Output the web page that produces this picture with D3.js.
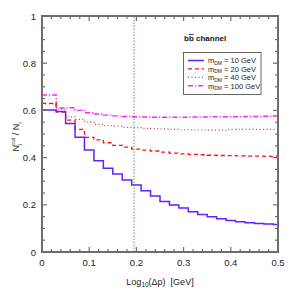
<!DOCTYPE html>
<html>
<head>
<meta charset="utf-8">
<script src="https://cdn.jsdelivr.net/npm/d3@7"></script>
<style>
  body { margin: 0; background: #fff; }
  svg { display: block; font-family: "Liberation Sans", Arial, sans-serif; }
</style>
</head>
<body>
<div id="chart"></div>
<script>
// bin edges of the step histograms
var binEdges = [0, 0.03, 0.05, 0.07, 0.09, 0.11, 0.13, 0.15, 0.17, 0.19, 0.21,
  0.23, 0.25, 0.27, 0.29, 0.31, 0.33, 0.35, 0.37, 0.39, 0.41, 0.43, 0.45,
  0.47, 0.49, 0.5];

var m10 = [0.602, 0.595, 0.545, 0.486, 0.432, 0.387, 0.355, 0.331, 0.305,
  0.284, 0.260, 0.237, 0.214, 0.199, 0.186, 0.171, 0.159, 0.149, 0.141,
  0.134, 0.128, 0.124, 0.121, 0.119, 0.116];
var m20 = [0.630, 0.593, 0.559, 0.520, 0.486, 0.475, 0.463, 0.452, 0.444,
  0.436, 0.432, 0.428, 0.423, 0.419, 0.416, 0.414, 0.412, 0.410, 0.409,
  0.408, 0.407, 0.406, 0.406, 0.405, 0.405];
var m40 = [0.628, 0.605, 0.573, 0.562, 0.550, 0.541, 0.535, 0.533, 0.528,
  0.527, 0.524, 0.523, 0.522, 0.520, 0.518, 0.517, 0.517, 0.516, 0.516,
  0.520, 0.520, 0.520, 0.520, 0.520, 0.520];
var m100 = [0.665, 0.610, 0.611, 0.600, 0.590, 0.585, 0.580, 0.577, 0.574,
  0.573, 0.572, 0.571, 0.571, 0.571, 0.571, 0.572, 0.572, 0.573, 0.573,
  0.573, 0.573, 0.574, 0.574, 0.575, 0.576];

var cutLine = 0.195;

var xTicks = [0, 0.1, 0.2, 0.3, 0.4, 0.5];
var yTicks = [0, 0.2, 0.4, 0.6, 0.8, 1];
var legendLabels = ['10 GeV', '20 GeV', '40 GeV', '100 GeV'];

var series = [
  { label: legendLabels[0], values: m10, color: '#6222ff', dash: null, width: 1.5 },
  { label: legendLabels[1], values: m20, color: '#ff1010', dash: '4,3', width: 1.3 },
  { label: legendLabels[2], values: m40, color: '#b84040', dash: '1,2.5', width: 1.2 },
  { label: legendLabels[3], values: m100, color: '#ff22ff', dash: '5,2,1.2,2', width: 1.4 }
];

var W = 295, H = 295;
var margin = { left: 42, top: 16, right: 17, bottom: 43 };

var svg = d3.select('#chart').append('svg')
  .attr('width', W)
  .attr('height', H);

var x = d3.scaleLinear().domain([0, 0.5]).range([margin.left, W - margin.right]);
var y = d3.scaleLinear().domain([0, 1]).range([H - margin.bottom, margin.top]);

var frameColor = '#6e6e6e';

// cut line
svg.append('line')
  .attr('x1', x(cutLine)).attr('x2', x(cutLine))
  .attr('y1', y(0)).attr('y2', y(1))
  .attr('stroke', '#7cc47c')
  .attr('stroke-width', 1.4)
  .attr('stroke-dasharray', '1.5,1.5');

var step = d3.line()
  .x(function(d) { return x(d[0]); })
  .y(function(d) { return y(d[1]); })
  .curve(d3.curveStepAfter);

function stepPoints(values) {
  var pts = values.map(function(v, i) { return [binEdges[i], v]; });
  pts.push([binEdges[binEdges.length - 1], values[values.length - 1]]);
  return pts;
}

series.slice().reverse().forEach(function(s) {
  svg.append('path')
    .datum(stepPoints(s.values))
    .attr('d', step)
    .attr('fill', 'none')
    .attr('stroke', s.color)
    .attr('stroke-width', s.width)
    .attr('stroke-dasharray', s.dash);
});

// frame with inward ticks on all sides
var axes = svg.append('g');
var minorX = d3.range(0, 0.5001, 0.02);
var minorY = d3.range(0, 1.0001, 0.05);

function tickLen(v, major) {
  return major.some(function(m) { return Math.abs(m - v) < 1e-6; }) ? 5 : 3;
}

minorX.forEach(function(v) {
  var len = tickLen(v, xTicks);
  axes.append('line').attr('x1', x(v)).attr('x2', x(v))
    .attr('y1', y(0)).attr('y2', y(0) - len);
  axes.append('line').attr('x1', x(v)).attr('x2', x(v))
    .attr('y1', y(1)).attr('y2', y(1) + len);
});
minorY.forEach(function(v) {
  var len = tickLen(v, yTicks);
  axes.append('line').attr('x1', x(0)).attr('x2', x(0) + len)
    .attr('y1', y(v)).attr('y2', y(v));
  axes.append('line').attr('x1', x(0.5)).attr('x2', x(0.5) - len)
    .attr('y1', y(v)).attr('y2', y(v));
});
axes.selectAll('line').attr('stroke', frameColor).attr('stroke-width', 1.2);

axes.append('rect')
  .attr('x', x(0)).attr('y', y(1))
  .attr('width', x(0.5) - x(0)).attr('height', y(0) - y(1))
  .attr('fill', 'none')
  .attr('stroke', frameColor)
  .attr('stroke-width', 2);

// tick labels
svg.append('g').selectAll('text').data(xTicks).enter().append('text')
  .attr('x', function(d) { return x(d); })
  .attr('y', y(0) + 14)
  .attr('text-anchor', 'middle')
  .attr('font-size', 9.5)
  .attr('fill', '#222')
  .text(function(d) { return d3.format('')(d); });

svg.append('g').selectAll('text').data(yTicks).enter().append('text')
  .attr('x', x(0) - 6)
  .attr('y', function(d) { return y(d) + 3.5; })
  .attr('text-anchor', 'end')
  .attr('font-size', 9.5)
  .attr('fill', '#222')
  .text(function(d) { return d3.format('')(d); });

// axis titles
var xt = svg.append('text')
  .attr('x', 160).attr('y', 285)
  .attr('text-anchor', 'middle')
  .attr('font-size', 9)
  .attr('fill', '#222');
xt.append('tspan').text('Log');
xt.append('tspan').attr('font-size', 6.5).attr('dy', 2).text('10');
xt.append('tspan').attr('dy', -2).text('(\u0394p)\u00a0\u00a0[GeV]');

var yt = svg.append('text')
  .attr('transform', 'translate(19,137) rotate(-90)')
  .attr('text-anchor', 'middle')
  .attr('font-size', 9)
  .attr('fill', '#222');
yt.append('tspan').text('N');
yt.append('tspan').attr('font-size', 6).attr('dy', 2.5).text('i');
yt.append('tspan').attr('font-size', 6).attr('dx', -2).attr('dy', -6.5).text('cut');
yt.append('tspan').attr('dy', 4).text('\u00a0/\u00a0N');
yt.append('tspan').attr('font-size', 6).attr('dy', 2.5).text('i');

// channel title
var ch = svg.append('text')
  .attr('x', 184).attr('y', 41)
  .attr('font-size', 8)
  .attr('font-weight', 'bold')
  .attr('fill', '#111');
ch.append('tspan').text('b');
ch.append('tspan').attr('text-decoration', 'overline').text('b');
ch.append('tspan').text(' channel');

// legend
var lg = svg.append('g');
lg.append('rect')
  .attr('x', 183.5).attr('y', 52.5)
  .attr('width', 77.5).attr('height', 42)
  .attr('fill', '#fff')
  .attr('stroke', '#444')
  .attr('stroke-width', 0.8);

series.forEach(function(s, i) {
  var ry = 60.5 + i * 8.4;
  lg.append('line')
    .attr('x1', 188).attr('x2', 204)
    .attr('y1', ry).attr('y2', ry)
    .attr('stroke', s.color)
    .attr('stroke-width', s.width)
    .attr('stroke-dasharray', s.dash);
  var t = lg.append('text')
    .attr('x', 208).attr('y', ry + 2.8)
    .attr('font-size', 7.5)
    .attr('fill', '#222');
  t.append('tspan').text('m');
  t.append('tspan').attr('font-size', 5).attr('dy', 1.5).text('DM');
  t.append('tspan').attr('dy', -1.5).text(' = ' + s.label);
});
</script>
</body>
</html>
